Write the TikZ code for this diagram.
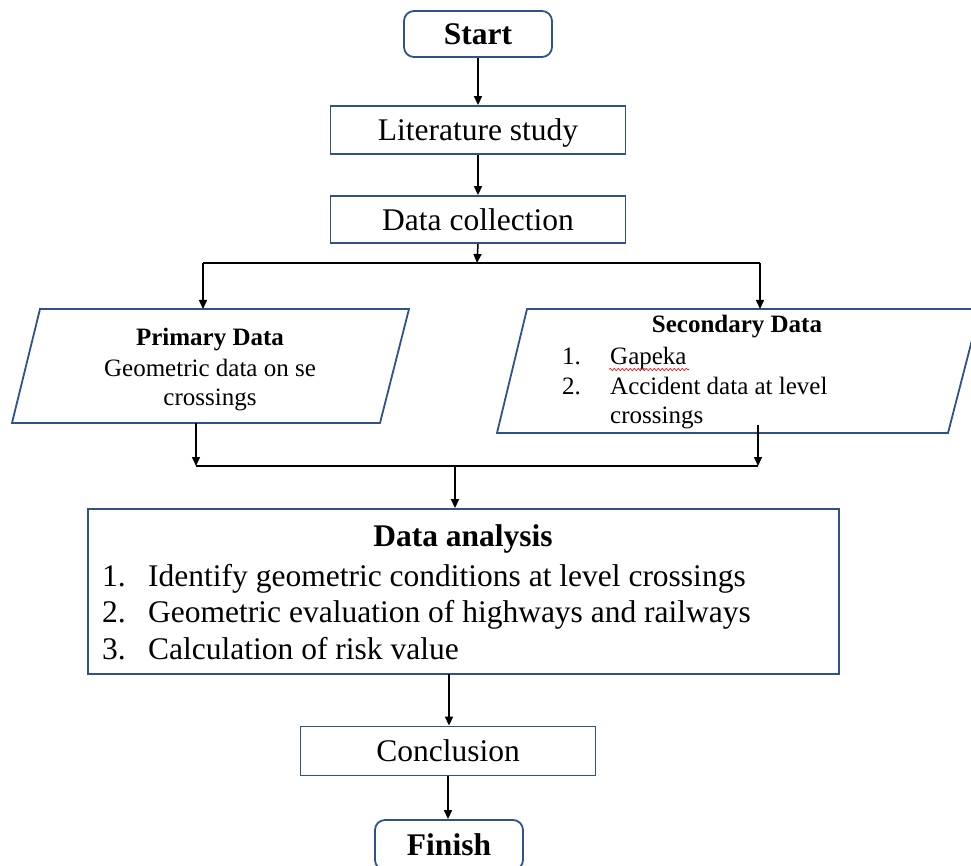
\documentclass[tikz,border=0pt]{standalone}
\usepackage{fontspec}
\setmainfont{Liberation Serif}
\usetikzlibrary{arrows.meta,decorations.pathmorphing}
\definecolor{boxblue}{RGB}{47,82,143}
\tikzset{
  boxline/.style={draw=boxblue, line width=1.8pt},
  flowbox/.style={boxline, rectangle, inner sep=0pt, font=\fontsize{31.5}{36.5}\selectfont},
  termbox/.style={flowbox, rounded corners=10pt, font=\fontsize{31.5}{36.5}\selectfont\bfseries},
  big/.style={inner sep=0pt, font=\fontsize{31.5}{36.5}\selectfont},
  small/.style={inner sep=0pt, font=\fontsize{25}{30}\selectfont},
  conn/.style={draw=black, line width=1.5pt},
  arrow/.style={conn, -{Triangle[length=9pt,width=8pt]}},
}
\begin{document}
\begin{tikzpicture}[x=1pt,y=-1pt]
\useasboundingbox (0,0) rectangle (971,866);
\clip (0,0) rectangle (971,866);
% boxes
\node[termbox, minimum width=148pt, minimum height=46pt] (start) at (478,34) {Start};
\node[flowbox, minimum width=295pt, minimum height=48pt, text depth=0pt] (lit) at (478,130) {Literature study};
\node[flowbox, minimum width=295pt, minimum height=47pt] (dc) at (478,219.5) {Data collection};
% primary data parallelogram
\draw[boxline] (40,309) -- (409,309) -- (380,423) -- (12,423) -- cycle;
\coordinate (ptop) at (203,309);
\coordinate (pbot) at (196,423);
\node[small, anchor=base, font=\fontsize{25}{30}\selectfont\bfseries] (pt) at (210,345) {Primary Data};
\node[small, anchor=base] (p1) at (210,376) {Geometric data on se};
\node[small, anchor=base] (p2) at (210,405) {crossings};
% secondary data parallelogram
\draw[boxline] (527,309) -- (980,309) -- (948,433) -- (497,433) -- cycle;
\coordinate (stop) at (760,309);
\coordinate (sbot) at (758,425);
\node[small, anchor=base, font=\fontsize{25}{30}\selectfont\bfseries] (st) at (737,333) {Secondary Data};
\node[small, anchor=base west] (s1n) at (562,364) {1.};
\node[small, anchor=base west] (s1) at (610,364) {Gapeka};
\node[small, anchor=base west] (s2n) at (562,394) {2.};
\node[small, anchor=base west] (s2) at (610,394) {Accident data at level};
\node[small, anchor=base west] (s3) at (610,423) {crossings};
\draw[red, line width=0.6pt, decorate, decoration={snake, amplitude=1.2pt, segment length=4pt}] (609,369.5) -- (689,369.5);
% data analysis
\node[flowbox, minimum width=751pt, minimum height=165pt] (da) at (463.5,591.5) {};
\node[big, anchor=base, font=\fontsize{31.5}{36.5}\selectfont\bfseries] (dat) at (463,546) {Data analysis};
\node[big, anchor=base west] (d1n) at (102,586) {1.};
\node[big, anchor=base west] (d1) at (148,586) {Identify geometric conditions at level crossings};
\node[big, anchor=base west] (d2n) at (102,622.5) {2.};
\node[big, anchor=base west] (d2) at (148,622.5) {Geometric evaluation of highways and railways};
\node[big, anchor=base west] (d3n) at (102,659) {3.};
\node[big, anchor=base west] (d3) at (148,659) {Calculation of risk value};
% conclusion & finish
\node[flowbox, minimum width=295pt, minimum height=49pt] (con) at (448,751) {Conclusion};
\node[termbox, minimum width=148pt, minimum height=50pt] (fin) at (449,845) {Finish};
% connectors
\draw[arrow] (start.south) -- (start.south |- lit.north);
\draw[arrow] (lit.south) -- (lit.south |- dc.north);
\coordinate (split) at (477,263);
\coordinate (splitl) at (203,263);
\coordinate (splitr) at (760,263);
\draw[arrow] (dc.south) -- (split);
\draw[conn] (splitl) -- (splitr);
\draw[arrow] (splitl) -- (ptop);
\draw[arrow] (splitr) -- (stop);
\coordinate (mergel) at (196,466);
\coordinate (merger) at (758,466);
\coordinate (merge) at (455,466);
\draw[arrow] (pbot) -- (mergel);
\draw[arrow] (sbot) -- (merger);
\draw[conn] (mergel) -- (merger);
\draw[arrow] (merge) -- (merge |- da.north);
\coordinate (dabot) at (449,674);
\draw[arrow] (dabot) -- (dabot |- con.north);
\draw[arrow] (con.south) -- (con.south |- fin.north);
\end{tikzpicture}
\end{document}
